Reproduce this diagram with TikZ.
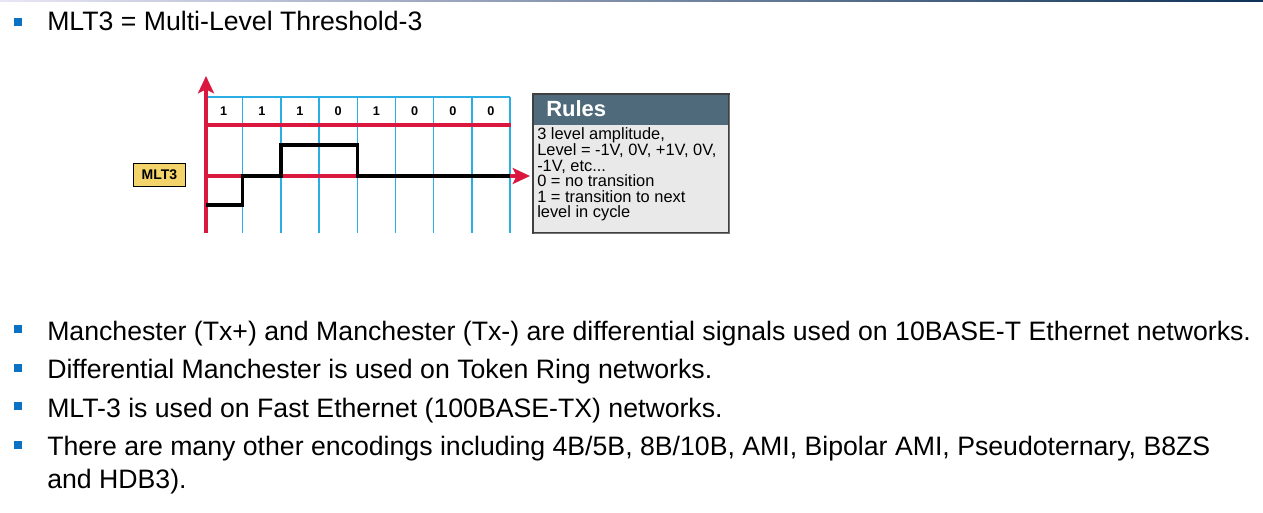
\documentclass[tikz,border=0pt]{standalone}
\usepackage{fontspec}
\setmainfont{Liberation Sans}
\usetikzlibrary{arrows.meta}
\definecolor{axisred}{HTML}{D9173F}
\definecolor{gridblue}{HTML}{2BAEE3}
\definecolor{bulletblue}{HTML}{0A72C4}
\definecolor{rulehead}{HTML}{4F6B7B}
\definecolor{rulebody}{HTML}{E9E9E9}
\definecolor{tagyellow}{HTML}{F3D46B}
\definecolor{topleft}{HTML}{E8E6F6}
\definecolor{topmid}{HTML}{C9D8F1}
\definecolor{topright}{HTML}{0E3257}
\tikzset{
  bullettext/.style={anchor=base west, inner sep=0pt, font=\fontsize{20pt}{24pt}\selectfont},
  bulletmark/.style={fill=bulletblue, minimum size=6pt, inner sep=0pt},
  gridline/.style={gridblue, line width=1.1pt},
  redline/.style={axisred, line width=2.4pt},
  redarrow/.style={redline, -{Stealth[length=13pt, width=12pt, inset=3pt]}},
  signal/.style={black, line width=2.6pt, line join=miter},
  digit/.style={font=\bfseries\fontsize{9.5pt}{11pt}\selectfont, inner sep=0pt},
  ruletext/.style={anchor=base west, inner sep=0pt, font=\fontsize{12.3pt}{12pt}\selectfont},
}
\begin{document}
\begin{tikzpicture}[x=0.75pt, y=-0.75pt]
\useasboundingbox (0,0) rectangle (1263,513);
\fill[white] (0,0) rectangle (1263,513);
% thin gradient rule along the top edge
\shade[left color=topleft, middle color=topmid, right color=topright] (0,0) rectangle (1263,1.6);

% heading bullet
\node[bulletmark] (b0) at (17.5,22) {};
\node[bullettext] (t0) at (47,31) {MLT3 = Multi-Level Threshold-3};

% timing grid
\draw[gridline] (206,97) -- (510,97);
\foreach \i in {1,...,8} {
  \draw[gridline] ({204.5+38.2*\i},97) -- ({204.5+38.2*\i},233);
}
\foreach \b [count=\i] in {1,1,1,0,1,0,0,0} {
  \node[digit] (d\i) at ({204.5+38.2*\i-19.1},111.5) {\b};
}
\draw[redline] (206,125) -- (511,125);
\coordinate (zstart) at (206,176);
\coordinate (zend) at (530,176);
\draw[redarrow] (zstart) -- (zend);
\coordinate (ybot) at (206,233);
\coordinate (ytop) at (206,76);
\draw[redarrow] (ybot) -- (ytop);

% MLT-3 waveform
\draw[signal] (206,205) -- (242.7,205) -- (242.7,176) -- (280.9,176) -- (280.9,145)
  -- (357.3,145) -- (357.3,176) -- (510,176);

% waveform label
\node[draw=black, line width=0.8pt, fill=tagyellow, minimum width=39pt, minimum height=17.5pt,
  inner sep=0pt, font=\bfseries\fontsize{10.5pt}{12pt}\selectfont] (tag) at (159.5,175) {MLT3};

% rules panel
\fill[rulebody] (533,94) rectangle (729,233);
\fill[rulehead] (533,94) rectangle (729,125);
\draw[black!75, line width=1pt] (533,94) rectangle (729,233);
\draw[black!55, line width=1.4pt] (729.5,95) -- (729.5,233.5) -- (534,233.5);
\node[anchor=base west, inner sep=0pt, text=white, font=\bfseries\fontsize{16.5pt}{18pt}\selectfont] (rh) at (546,117) {Rules};
\node[ruletext] (r1) at (537,140) {3 level amplitude,};
\node[ruletext] (r2) at (537,155.6) {Level = -1V, 0V, +1V, 0V,};
\node[ruletext] (r3) at (537,171.2) {-1V, etc...};
\node[ruletext] (r4) at (537,186.8) {0 = no transition};
\node[ruletext] (r5) at (537,202.4) {1 = transition to next};
\node[ruletext] (r6) at (537,218) {level in cycle};

% lower bullet list
\node[bulletmark] (b1) at (17.5,329) {};
\node[bullettext] (t1) at (47,340) {Manchester (Tx+) and Manchester (Tx-) are differential signals used on 10BASE-T Ethernet networks.};
\node[bulletmark] (b2) at (17.5,367.5) {};
\node[bullettext] (t2) at (47,378.5) {Differential Manchester is used on Token Ring networks.};
\node[bulletmark] (b3) at (17.5,406) {};
\node[bullettext] (t3) at (47,417) {MLT-3 is used on Fast Ethernet (100BASE-TX) networks.};
\node[bulletmark] (b4) at (17.5,444.5) {};
\node[bullettext] (t4) at (47,455.5) {There are many other encodings including 4B/5B, 8B/10B, AMI, Bipolar AMI, Pseudoternary, B8ZS};
\node[bullettext] (t5) at (47,488) {and HDB3).};
\end{tikzpicture}
\end{document}
